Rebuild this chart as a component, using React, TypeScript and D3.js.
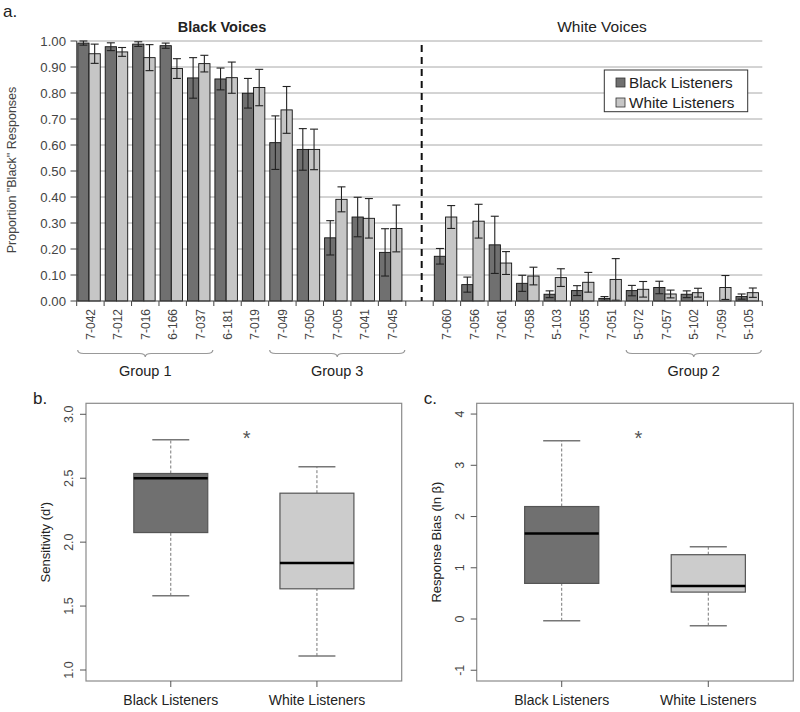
import React from "react";
import * as d3 from "d3";

const blackVoiceIds = ["7-042","7-012","7-016","6-166","7-037","6-181","7-019","7-049","7-050","7-005","7-041","7-045"];
const whiteVoiceIds = ["7-060","7-056","7-061","7-058","5-103","7-055","7-051","5-072","7-057","5-102","7-059","5-105"];
// Black voices then White voices
const blackListeners = [0.992,0.978,0.988,0.982,0.858,0.854,0.799,0.609,0.583,0.243,0.323,0.187,
  0.172,0.063,0.216,0.068,0.026,0.040,0.010,0.040,0.052,0.026,0.0,0.017];
const blackListenersErr = [0.008,0.015,0.009,0.010,0.078,0.042,0.057,0.103,0.080,0.066,0.076,0.091,
  0.030,0.029,0.110,0.031,0.013,0.019,0.007,0.020,0.024,0.013,0.0,0.010];
const whiteListeners = [0.951,0.958,0.936,0.894,0.913,0.859,0.821,0.735,0.583,0.391,0.318,0.279,
  0.323,0.307,0.146,0.096,0.090,0.072,0.083,0.045,0.027,0.032,0.052,0.032];
const whiteListenersErr = [0.037,0.017,0.050,0.038,0.032,0.060,0.070,0.090,0.078,0.048,0.076,0.090,
  0.044,0.065,0.044,0.034,0.034,0.038,0.080,0.030,0.015,0.017,0.046,0.018];
const yTicksA = [0,0.1,0.2,0.3,0.4,0.5,0.6,0.7,0.8,0.9,1.0];
const groups = [
  { name: "Group 1", from: "7-042", to: "7-037" },
  { name: "Group 3", from: "7-049", to: "7-045" },
  { name: "Group 2", from: "5-072", to: "5-105" },
];
const seriesNames = ["Black Listeners", "White Listeners"];

// Box plot stats: [whiskerLow, q1, median, q3, whiskerHigh]
const sensitivityStats = [[1.58,2.075,2.50,2.537,2.80],[1.11,1.635,1.836,2.383,2.59]];
const biasStats = [[-0.035,0.695,1.67,2.195,3.48],[-0.13,0.525,0.645,1.255,1.41]];
const sensTicks = [1.0,1.5,2.0,2.5,3.0];
const biasTicks = [-1,0,1,2,3,4];

const DARK = "#707070";
const LIGHT = "#c6c6c6";
const FONT = "'Liberation Sans', Arial, sans-serif";

function Brace({ x0, x1, y, h }: { x0: number; x1: number; y: number; h: number }) {
  const m = (x0 + x1) / 2;
  const r = 6;
  const yMid = y + h / 2;
  const d = `M${x0},${y} Q${x0},${yMid} ${x0 + r},${yMid} L${m - r},${yMid} Q${m},${yMid} ${m},${y + h} Q${m},${yMid} ${m + r},${yMid} L${x1 - r},${yMid} Q${x1},${yMid} ${x1},${y}`;
  return <path d={d} fill="none" stroke="#999" strokeWidth={1.2} />;
}

function BoxPanel({ left, right, top, bottom, domain, ticks, stats, title, label, tickFmt, star }: any) {
  const y = d3.scaleLinear().domain(domain).range([bottom, top]);
  const x = d3.scaleLinear().domain([0.42, 2.58]).range([left, right]);
  const halfW = 0.253 * (x(1) - x(0));
  const capW = halfW / 2;
  const fills = [DARK, "#cccccc"];
  return (
    <g fontFamily={FONT}>
      <rect x={left} y={top} width={right - left} height={bottom - top} fill="none" stroke="#8a8a8a" strokeWidth={1.2} />
      {ticks.map((t: number) => (
        <g key={t}>
          <line x1={left - 6} x2={left} y1={y(t)} y2={y(t)} stroke="#555" />
          <text transform={`translate(${left - 13},${y(t)}) rotate(-90)`} textAnchor="middle" fontSize={12.5} fill="#444">{tickFmt(t)}</text>
        </g>
      ))}
      <text transform={`translate(${left - 36},${(top + bottom) / 2}) rotate(-90)`} textAnchor="middle" fontSize={13} fill="#222">{title}</text>
      <text x={left - 53} y={top + 1} fontSize={17} fill="#222">{label}</text>
      {stats.map((s: number[], i: number) => {
        const cx = x(i + 1);
        return (
          <g key={i}>
            <line x1={cx} x2={cx} y1={y(s[0])} y2={y(s[1])} stroke="#777" strokeDasharray="3,2" />
            <line x1={cx} x2={cx} y1={y(s[3])} y2={y(s[4])} stroke="#777" strokeDasharray="3,2" />
            <line x1={cx - capW} x2={cx + capW} y1={y(s[0])} y2={y(s[0])} stroke="#777" strokeWidth={1.5} />
            <line x1={cx - capW} x2={cx + capW} y1={y(s[4])} y2={y(s[4])} stroke="#777" strokeWidth={1.5} />
            <rect x={cx - halfW} y={y(s[3])} width={2 * halfW} height={y(s[1]) - y(s[3])} fill={fills[i]} stroke="#555" strokeWidth={1.2} />
            <line x1={cx - halfW} x2={cx + halfW} y1={y(s[2])} y2={y(s[2])} stroke="#000" strokeWidth={2.5} />
            <line x1={cx} x2={cx} y1={bottom} y2={bottom + 6} stroke="#555" />
            <text x={cx} y={bottom + 24} textAnchor="middle" fontSize={14} fill="#222">{seriesNames[i]}</text>
          </g>
        );
      })}
      <text x={star} y={top + 42} textAnchor="middle" fontSize={20} fill="#555">*</text>
    </g>
  );
}

export default function App() {
  const cats = [...blackVoiceIds, "gap", ...whiteVoiceIds];
  const x = d3.scaleBand<string>().domain(cats).range([76.7, 762.3]).padding(0);
  const y = d3.scaleLinear().domain([0, 1]).range([301, 41]);
  const ids = [...blackVoiceIds, ...whiteVoiceIds];
  const bw = x.bandwidth();
  const barW = bw * 0.41;
  const off = bw * 0.04;

  return (
    <svg width={800} height={712} style={{ display: "block", position: "absolute", left: 0, top: 0 }} fontFamily={FONT}>
      <rect width={800} height={712} fill="#fff" />
      <text x={3} y={17} fontSize={17} fill="#222">a.</text>
      {/* gridlines */}
      {yTicksA.map((t) => (
        <g key={t}>
          {t > 0 && <line x1={76.7} x2={762.3} y1={y(t)} y2={y(t)} stroke="#a8a8a8" />}
          <line x1={70.5} x2={76.7} y1={y(t)} y2={y(t)} stroke="#444" />
          <text x={66} y={y(t) + 4.7} textAnchor="end" fontSize={13.2} fill="#444">{t.toFixed(2)}</text>
        </g>
      ))}
      <text transform={`translate(16,170) rotate(-90)`} textAnchor="middle" fontSize={12.5} fill="#444">Proportion "Black" Responses</text>
      <text x={222} y={32} textAnchor="middle" fontSize={14.5} fontWeight="bold" fill="#222">Black Voices</text>
      <text x={602} y={32} textAnchor="middle" fontSize={15.5} fill="#222">White Voices</text>
      {/* bars */}
      {ids.map((id, i) => {
        const x0 = (x(id) as number) + off;
        const vals = [blackListeners[i], whiteListeners[i]];
        const errs = [blackListenersErr[i], whiteListenersErr[i]];
        return (
          <g key={id}>
            {vals.map((v, j) => {
              if (v <= 0) return null;
              const bx = x0 + j * barW;
              const cx = bx + barW / 2;
              return (
                <g key={j}>
                  <rect x={bx} y={y(v)} width={barW} height={y(0) - y(v)} fill={j === 0 ? DARK : LIGHT} stroke="#111" strokeWidth={0.9} />
                  {errs[j] > 0 && (
                    <g stroke="#222" strokeWidth={1.1}>
                      <line x1={cx} x2={cx} y1={y(v + errs[j])} y2={y(Math.max(0, v - errs[j]))} />
                      <line x1={cx - 4} x2={cx + 4} y1={y(v + errs[j])} y2={y(v + errs[j])} />
                      <line x1={cx - 4} x2={cx + 4} y1={y(Math.max(0, v - errs[j]))} y2={y(Math.max(0, v - errs[j]))} />
                    </g>
                  )}
                </g>
              );
            })}
            <text transform={`translate(${(x(id) as number) + bw / 2 + 4.5},309) rotate(-90)`} textAnchor="end" fontSize={12} fill="#444">{id}</text>
          </g>
        );
      })}
      {/* axes */}
      <line x1={76.7} x2={76.7} y1={41} y2={301} stroke="#444" />
      <line x1={76.7} x2={762.3} y1={301} y2={301} stroke="#444" />
      {cats.map((c) => (
        <line key={c} x1={x(c) as number} x2={x(c) as number} y1={301} y2={306} stroke="#444" />
      ))}
      <line x1={762.3} x2={762.3} y1={301} y2={306} stroke="#444" />
      {/* divider */}
      <line x1={(x("gap") as number) + bw * 0.58} x2={(x("gap") as number) + bw * 0.58} y1={45} y2={301} stroke="#111" strokeWidth={2} strokeDasharray="7,5" />
      {/* legend */}
      <g>
        <rect x={604.3} y={70} width={143.4} height={41.7} fill="#fff" stroke="#333" strokeWidth={1} />
        {seriesNames.map((n, i) => (
          <g key={n}>
            <rect x={616} y={78 + i * 20} width={9} height={9} fill={i === 0 ? DARK : LIGHT} stroke="#333" strokeWidth={0.8} />
            <text x={629} y={87.5 + i * 20} fontSize={15.3} fill="#222">{n}</text>
          </g>
        ))}
      </g>
      {/* group braces */}
      {groups.map((g) => {
        const x0 = x(g.from) as number;
        const x1 = (x(g.to) as number) + bw;
        return (
          <g key={g.name}>
            <Brace x0={x0 + 1} x1={x1 - 1} y={350} h={7} />
            <text x={(x0 + x1) / 2} y={376} textAnchor="middle" fontSize={14.5} fill="#222">{g.name}</text>
          </g>
        );
      })}
      <BoxPanel left={86} right={401.7} top={403.3} bottom={681} domain={[0.914, 3.086]} ticks={sensTicks}
        stats={sensitivityStats} title="Sensitivity (d')" label="b." tickFmt={(t: number) => t.toFixed(1)} star={246.7} />
      <BoxPanel left={476.7} right={793.3} top={403.3} bottom={681} domain={[-1.21, 4.21]} ticks={biasTicks}
        stats={biasStats} title="Response Bias (ln β)" label="c." tickFmt={(t: number) => String(t)} star={638.3} />
    </svg>
  );
}
